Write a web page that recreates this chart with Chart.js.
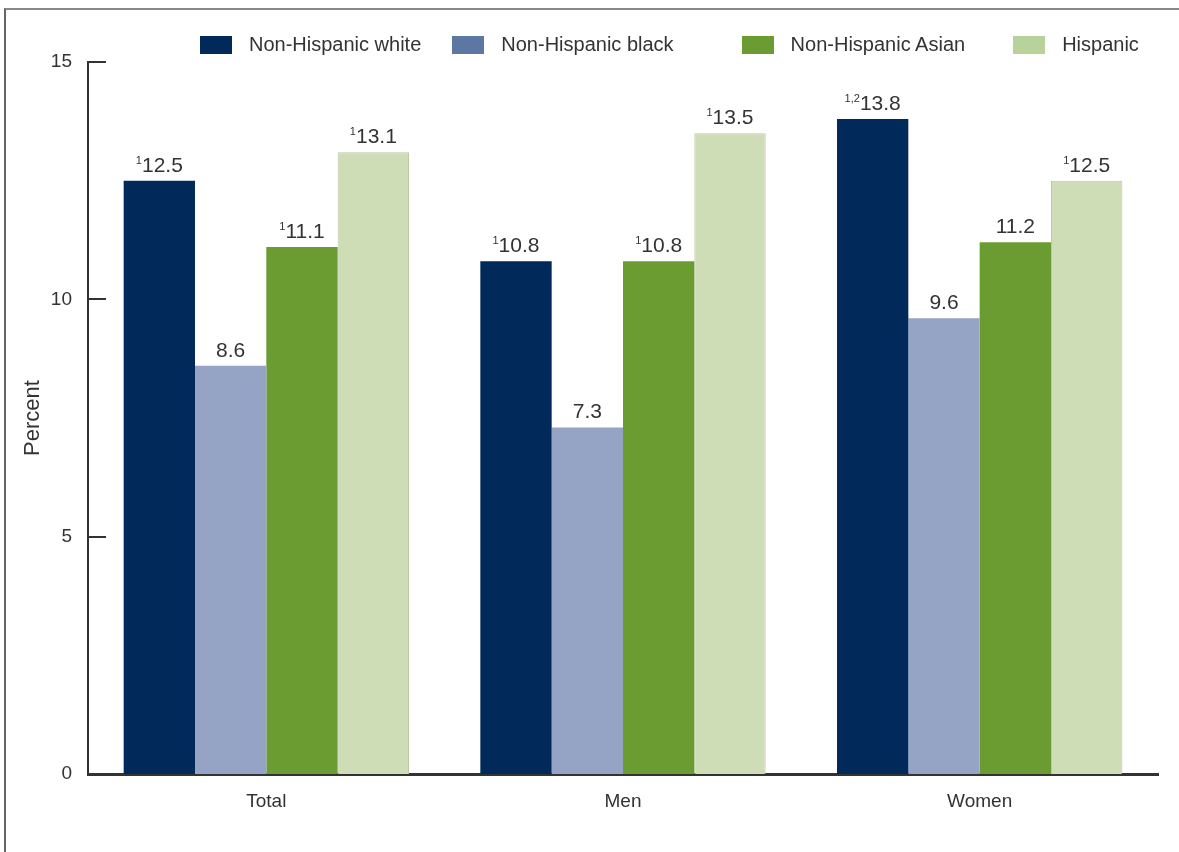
<!DOCTYPE html>
<html>
<head>
<meta charset="utf-8">
<title>Percent by race and Hispanic origin</title>
<script src="https://cdn.jsdelivr.net/npm/chart.js@4.4.1/dist/chart.umd.min.js"></script>
<style>
  html, body { margin: 0; padding: 0; background: #fff; }
  #wrap { position: relative; width: 1179px; height: 852px; overflow: hidden; font-family: "Liberation Sans", Arial, sans-serif; }
  #frame { position: absolute; left: 4px; top: 8px; right: -10px; bottom: -10px; border-left: 2px solid #666; border-top: 2px solid #888; }
  #legend { position: absolute; left: 200px; top: 33px; display: flex; align-items: center; font-size: 20px; color: #333; }
  #legend .item { display: flex; align-items: center; margin-right: 31px; white-space: nowrap; }
  #legend .box { width: 32px; height: 18px; margin-right: 17px; }
  canvas { position: absolute; left: 0; top: 0; }
</style>
</head>
<body>
<div id="wrap">
  <div id="frame"></div>
  <canvas id="myChart" width="1179" height="852"></canvas>
  <div id="legend"></div>
</div>
<script>
// groups along the x axis
const categories = ['Total', 'Men', 'Women'];

// percent values per group
const whiteValues = [12.5, 10.8, 13.8];
const blackValues = [8.6, 7.3, 9.6];
const asianValues = [11.1, 10.8, 11.2];
const hispanicValues = [13.1, 13.5, 12.5];

// footnote marks shown before each value
const whiteNotes = ['1', '1', '1,2'];
const blackNotes = ['', '', ''];
const asianNotes = ['1', '1', ''];
const hispanicNotes = ['1', '1', '1'];

const seriesNames = ['Non-Hispanic white', 'Non-Hispanic black', 'Non-Hispanic Asian', 'Hispanic'];
const yTicks = [0, 5, 10, 15];

const barColors = ['#012a5b', '#95a4c5', '#6b9c31', '#cfddb6'];
const legendColors = ['#012a5b', '#5d77a4', '#6b9c31', '#b7d39b'];
// extra space before some legend entries
const legendGaps = [0, 0, 37, 17];

const labelFont = '"Liberation Sans", Arial, sans-serif';

// value labels with a small raised footnote in front
const barLabels = {
  id: 'barLabels',
  afterDatasetsDraw(chart) {
    const ctx = chart.ctx;
    ctx.save();
    ctx.fillStyle = '#333';
    ctx.textBaseline = 'alphabetic';
    ctx.textAlign = 'left';
    chart.data.datasets.forEach((ds, i) => {
      const meta = chart.getDatasetMeta(i);
      meta.data.forEach((bar, j) => {
        const num = ds.data[j].toFixed(1);
        const note = ds.notes[j];
        ctx.font = '21px ' + labelFont;
        const numW = ctx.measureText(num).width;
        ctx.font = '11px ' + labelFont;
        const noteW = note ? ctx.measureText(note).width : 0;
        const x0 = bar.x - (numW + noteW) / 2;
        const base = bar.y - 9;
        if (note) ctx.fillText(note, x0, base - 8);
        ctx.font = '21px ' + labelFont;
        ctx.fillText(num, x0 + noteW, base);
      });
    });
    ctx.restore();
  }
};

// tick marks on the y axis point into the plot
const innerTicks = {
  id: 'innerTicks',
  afterDraw(chart) {
    const y = chart.scales.y;
    const ctx = chart.ctx;
    ctx.save();
    ctx.strokeStyle = '#333';
    ctx.lineWidth = 2;
    yTicks.forEach(v => {
      const py = Math.round(y.getPixelForValue(v));
      ctx.beginPath();
      ctx.moveTo(y.right, py);
      ctx.lineTo(y.right + 18, py);
      ctx.stroke();
    });
    ctx.restore();
  }
};

const valueSets = [whiteValues, blackValues, asianValues, hispanicValues];
const noteSets = [whiteNotes, blackNotes, asianNotes, hispanicNotes];

const myChart = document.getElementById('myChart');
let barChart = new Chart(myChart, {
  type: 'bar',
  data: {
    labels: categories,
    datasets: seriesNames.map((name, i) => ({
      label: name,
      data: valueSets[i],
      notes: noteSets[i],
      backgroundColor: barColors[i],
      borderColor: i === 3 ? '#bcc9a6' : barColors[i],
      borderWidth: i === 3 ? 1 : 0,
      categoryPercentage: 0.8,
      barPercentage: 1.0
    }))
  },
  options: {
    responsive: false,
    animation: false,
    layout: { padding: { top: 62, right: 21, left: 0, bottom: 0 } },
    plugins: {
      legend: { display: false },
      tooltip: { enabled: false }
    },
    scales: {
      x: {
        grid: { display: false, drawTicks: false },
        border: { display: true, color: '#333', width: 3 },
        ticks: { color: '#333', font: { size: 19, family: labelFont }, padding: 16 },
        afterFit: s => { s.height = 78; }
      },
      y: {
        min: 0,
        max: 15,
        afterBuildTicks: s => { s.ticks = yTicks.map(v => ({ value: v })); },
        grid: { display: false, drawTicks: false },
        border: { display: true, color: '#333', width: 2 },
        ticks: { color: '#333', font: { size: 19, family: labelFont }, padding: 16 },
        title: {
          display: true,
          text: 'Percent',
          color: '#333',
          font: { size: 22, family: labelFont },
          padding: { top: 20, bottom: 0 }
        },
        afterFit: s => { s.width = 88; }
      }
    }
  },
  plugins: [barLabels, innerTicks]
});

// legend built from the datasets
const legendEl = document.getElementById('legend');
barChart.data.datasets.forEach((ds, i) => {
  const item = document.createElement('div');
  item.className = 'item';
  item.style.marginLeft = legendGaps[i] + 'px';
  const box = document.createElement('span');
  box.className = 'box';
  box.style.background = legendColors[i];
  const txt = document.createElement('span');
  txt.textContent = ds.label;
  item.appendChild(box);
  item.appendChild(txt);
  legendEl.appendChild(item);
});
</script>
</body>
</html>
